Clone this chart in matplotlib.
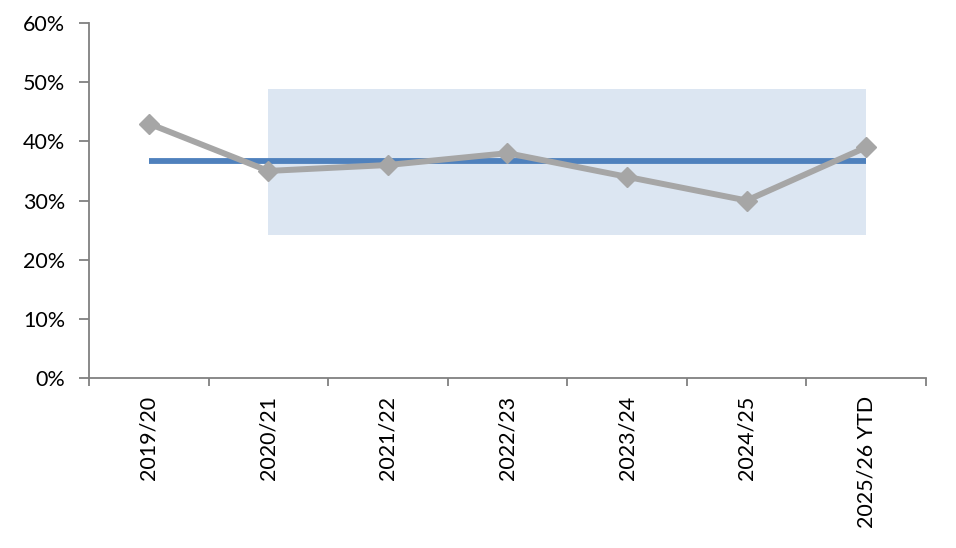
import matplotlib
matplotlib.use("Agg")
import matplotlib.pyplot as plt
from matplotlib.ticker import FuncFormatter, FixedLocator

plt.rcParams["font.family"] = ["Lato", "DejaVu Sans"]

seasons = ["2019/20", "2020/21", "2021/22", "2022/23", "2023/24", "2024/25", "2025/26 YTD"]
share = [0.43, 0.35, 0.36, 0.38, 0.34, 0.30, 0.39]
average = 0.366
band_low = 0.242
band_high = 0.488
band_start = 1
band_end = 6

fig = plt.figure(figsize=(9.56, 5.48), dpi=100)
ax = fig.add_axes([0.0931, 0.3102, 0.8755, 0.6478])

x = list(range(len(seasons)))

# shaded range
ax.fill_between([band_start, band_end], band_low, band_high, color="#DCE6F2", lw=0, zorder=1)

# average line
ax.plot([x[0], x[-1]], [average, average], color="#4F81BD", lw=4.2, solid_capstyle="butt", zorder=2)

# seasonal share
ax.plot(x, share, color="#A6A6A6", lw=4.3, marker="D", markersize=10, zorder=3)

ax.set_xlim(-0.5, len(seasons) - 0.5)
ax.set_ylim(0, 0.6)
ax.set_yticks([0, 0.1, 0.2, 0.3, 0.4, 0.5, 0.6])
ax.yaxis.set_major_formatter(FuncFormatter(lambda v, p: f"{v*100:.0f}%"))

ax.set_xticks(x)
ax.set_xticklabels(seasons, rotation=90)
ax.xaxis.set_minor_locator(FixedLocator([i - 0.5 for i in range(len(seasons) + 1)]))
ax.tick_params(axis="x", which="major", length=0, pad=13, labelsize=15.5, colors="black")
ax.tick_params(axis="x", which="minor", length=6, width=1.3, color="#808080", direction="out")
ax.tick_params(axis="y", length=7, width=1.3, color="#808080", labelsize=15.5, pad=10)

for side in ["top", "right"]:
    ax.spines[side].set_visible(False)
for side in ["left", "bottom"]:
    ax.spines[side].set_color("#808080")
    ax.spines[side].set_linewidth(1.3)

fig.savefig("out.png", dpi=100)
